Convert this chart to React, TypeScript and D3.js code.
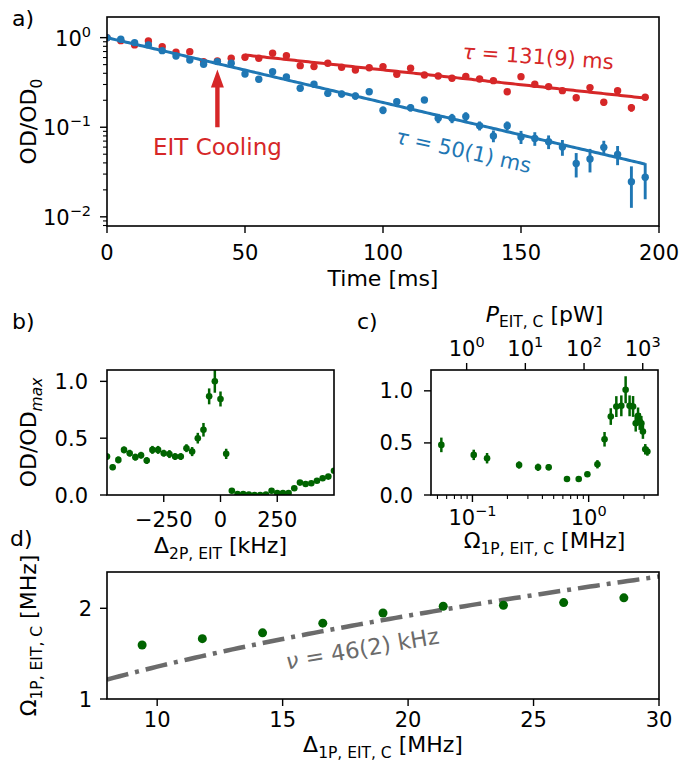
import React from 'react';
import * as d3 from 'd3';

const W = 696;
const H = 764;
const FONT = 'DejaVu Sans, sans-serif';
const BLUE = '#1f77b4';
const RED = '#d62728';
const GREEN = '#006400';
const GREY = '#6b6b6b';
const FS = 21; // tick labels
const LFS = 22; // axis labels
const SUB = 15.5;

// ---- panel a: decay curves
const timeMs = [0, 5, 10, 15, 20, 25, 30, 35, 40, 45, 50, 55, 60, 65, 70, 75, 80, 85, 90, 95,
  100, 105, 110, 115, 120, 125, 130, 135, 140, 145, 150, 155, 160, 165, 170, 175, 180, 185, 190, 195];
const blueOD = [1.0, 0.96, 0.88, 0.83, 0.716, 0.624, 0.563, 0.504, 0.54, 0.518, 0.393, 0.343, 0.417, 0.364,
  0.272, 0.302, 0.239, 0.235, 0.223, 0.249, 0.155, 0.193, 0.165, 0.201, 0.126, 0.126, 0.132, 0.104, 0.08,
  0.104, 0.078, 0.075, 0.069, 0.06, 0.0395, 0.0443, 0.0596, 0.0497, 0.0246, 0.0277];
const blueErr = [0.04, 0.04, 0.04, 0.035, 0.03, 0.03, 0.035, 0.03, 0.025, 0.03, 0.025, 0.025, 0.02, 0.02,
  0.02, 0.02, 0.02, 0.02, 0.02, 0.015, 0.015, 0.015, 0.015, 0.012, 0.015, 0.015, 0.015, 0.012, 0.012,
  0.012, 0.013, 0.013, 0.012, 0.012, 0.012, 0.013, 0.011, 0.012, 0.012, 0.012];
const redOD = [1.0, 0.926, 0.83, 0.918, 0.79, 0.687, 0.698, 0.54, 0.55, 0.588, 0.604, 0.588, 0.67, 0.627,
  0.487, 0.475, 0.518, 0.467, 0.436, 0.462, 0.475, 0.39, 0.455, 0.383, 0.373, 0.352, 0.37, 0.346, 0.331,
  0.249, 0.367, 0.302, 0.284, 0.256, 0.213, 0.277, 0.19, 0.256, 0.165, 0.216];
const redErr = [0.04, 0.04, 0.035, 0.035, 0.03, 0.03, 0.03, 0.03, 0.03, 0.025, 0.025, 0.025, 0.025, 0.025,
  0.02, 0.02, 0.02, 0.02, 0.02, 0.02, 0.02, 0.02, 0.02, 0.018, 0.018, 0.018, 0.018, 0.018, 0.018,
  0.016, 0.016, 0.016, 0.016, 0.016, 0.016, 0.016, 0.016, 0.016, 0.016, 0.016];
// fitted exponentials as they appear on the plot
const blueFit = { t0: 0, t1: 195, a: 1.0, tau: 60 };
const redFit = { t0: 50, t1: 195, a: 0.64, tau: 131 };
const xTicksA = [0, 50, 100, 150, 200];

// ---- panel b: two-photon detuning scan
const detuning2P = [-500, -475, -450, -425, -400, -375, -350, -325, -300, -275, -250, -225, -200, -175,
  -150, -125, -100, -75, -50, -25, 0, 25, 50, 75, 100, 125, 150, 175, 200, 225, 250, 275, 300, 325, 350,
  375, 400, 425, 450, 475, 500];
const odB = [0.338, 0.244, 0.309, 0.397, 0.368, 0.333, 0.35, 0.303, 0.397, 0.397, 0.368, 0.36, 0.338,
  0.338, 0.412, 0.382, 0.5, 0.574, 0.868, 1.0, 0.845, 0.362, 0.038, 0.009, 0.009, 0.005, 0.0, 0.0, 0.005,
  0.038, 0.018, 0.018, 0.018, 0.059, 0.109, 0.097, 0.103, 0.126, 0.147, 0.162, 0.214];
const errB = [0.03, 0.025, 0.03, 0.03, 0.03, 0.03, 0.03, 0.03, 0.035, 0.035, 0.03, 0.035, 0.03, 0.03,
  0.035, 0.04, 0.047, 0.06, 0.07, 0.1, 0.066, 0.045, 0.012, 0.01, 0.01, 0.01, 0.01, 0.01, 0.01, 0.012,
  0.012, 0.012, 0.012, 0.015, 0.015, 0.015, 0.015, 0.015, 0.015, 0.015, 0.015];
const xTicksB = [-250, 0, 250];
const yTicksB = [0, 0.5, 1.0];

// ---- panel c: Rabi frequency scan
const omegaC = [0.054, 0.1026, 0.1336, 0.252, 0.367, 0.453, 0.651, 0.821, 0.975, 1.19, 1.37, 1.55, 1.73,
  1.91, 2.08, 2.25, 2.41, 2.54, 2.66, 2.75, 2.84, 2.93, 3.07, 3.2];
const odC = [0.481, 0.385, 0.353, 0.288, 0.266, 0.266, 0.154, 0.154, 0.199, 0.295, 0.535, 0.753, 0.849,
  0.856, 1.01, 0.856, 0.85, 0.689, 0.76, 0.705, 0.689, 0.609, 0.439, 0.417];
const errC = [0.07, 0.05, 0.05, 0.035, 0.035, 0.03, 0.02, 0.02, 0.025, 0.04, 0.07, 0.08, 0.1, 0.1, 0.13,
  0.1, 0.1, 0.08, 0.08, 0.08, 0.07, 0.07, 0.05, 0.04];
const omegaDomain = [0.044, 3.95];
const powerDomain = [0.247, 1820];
const xTicksC = [0.1, 1];
const topTicksC = [1, 10, 100, 1000];
const yTicksC = [0, 0.5, 1.0];

// ---- panel d: optimal Rabi frequency vs single-photon detuning
const detuning1P = [9.4, 11.8, 14.2, 16.6, 19.0, 21.4, 23.8, 26.2, 28.6];
const omegaOpt = [1.595, 1.665, 1.729, 1.836, 1.948, 2.022, 2.033, 2.063, 2.115];
const trapNuMHz = 0.046;
const xTicksD = [10, 15, 20, 25, 30];
const yTicksD = [1, 2];

const A = { l: 107, r: 659, t: 17, b: 226 };
const B = { l: 107, r: 334, t: 370, b: 495 };
const C = { l: 431, r: 658, t: 370, b: 495 };
const D = { l: 107, r: 659, t: 572, b: 699 };

const minus = (n: number) => String(n).replace('-', '\u2212');

const Pow10 = ({ x, y, v, anchor }: any) => {
  const e = Math.round(Math.log10(v));
  return (
    <text x={x} y={y} textAnchor={anchor} fontSize={FS}>
      <tspan>10</tspan>
      <tspan dy={-9} fontSize={14.5}>{minus(e)}</tspan>
    </text>
  );
};

const Frame = ({ p }: any) => (
  <rect x={p.l} y={p.t} width={p.r - p.l} height={p.b - p.t} fill="none" stroke="#000" strokeWidth={1.6} />
);

const Clip = ({ id, p }: any) => (
  <clipPath id={id}><rect x={p.l} y={p.t} width={p.r - p.l} height={p.b - p.t} /></clipPath>
);

// label with a roman subscript, e.g. Δ_{2P, EIT} [kHz]
const SubLabel = ({ base, sub, rest, italicBase = false, italicSub = false, drop = 5.5 }: any) => (
  <>
    <tspan fontStyle={italicBase ? 'italic' : 'normal'}>{base}</tspan>
    <tspan dy={drop} fontSize={SUB} fontStyle={italicSub ? 'italic' : 'normal'}>{sub}</tspan>
    {rest && <tspan dy={-drop}>{rest}</tspan>}
  </>
);

const XTicks = ({ p, scale, ticks, len = 7, fmt = (v: number) => minus(v), y0 = 26 }: any) => (
  <g>
    {ticks.map((v: number) => (
      <g key={v}>
        <line x1={scale(v)} x2={scale(v)} y1={p.b} y2={p.b + len} stroke="#000" strokeWidth={1.4} />
        <text x={scale(v)} y={p.b + y0} textAnchor="middle" fontSize={FS}>{fmt(v)}</text>
      </g>
    ))}
  </g>
);

const YTicks = ({ p, scale, ticks, fmt = (v: number) => v.toFixed(1), gap = 17 }: any) => (
  <g>
    {ticks.map((v: number) => (
      <g key={v}>
        <line x1={p.l - 7} x2={p.l} y1={scale(v)} y2={scale(v)} stroke="#000" strokeWidth={1.4} />
        <text x={p.l - gap} y={scale(v) + 7.5} textAnchor="end" fontSize={FS}>{fmt(v)}</text>
      </g>
    ))}
  </g>
);

const ErrDots = ({ xs, ys, es, x, y, color, r, sw }: any) => (
  <g>
    {xs.map((xv: number, i: number) => (
      <line key={'e' + i} x1={x(xv)} x2={x(xv)} y1={y(Math.max(ys[i] - es[i], 1e-4))} y2={y(ys[i] + es[i])}
        stroke={color} strokeWidth={sw} />
    ))}
    {xs.map((xv: number, i: number) => (
      <circle key={'c' + i} cx={x(xv)} cy={y(ys[i])} r={r} fill={color} />
    ))}
  </g>
);

export default function App() {
  // panel a scales
  const xa = d3.scaleLinear().domain([0, 200]).range([A.l, A.r]);
  const ya = d3.scaleLog().domain([0.0079, 1.7]).range([A.b, A.t]);
  const minorA = ya.ticks().filter((v) => Math.abs(Math.log10(v) - Math.round(Math.log10(v))) > 1e-6);
  const majorA = [0.01, 0.1, 1];
  const fitLine = (f: any) => {
    const ts = d3.range(f.t0, f.t1 + 0.01, 1);
    return d3.line<number>().x((t) => xa(t)).y((t) => ya(f.a * Math.exp(-(t - f.t0) / f.tau)))(ts) as string;
  };
  const arrowT = 40, arrowFrom = 0.1, arrowTo = 0.44;
  const ax = xa(arrowT), ayTip = ya(arrowTo), ayTail = ya(arrowFrom);
  const arrowPts = [[ax, ayTip], [ax + 6.5, ayTip + 18], [ax + 2.2, ayTip + 18], [ax + 2.2, ayTail],
    [ax - 2.2, ayTail], [ax - 2.2, ayTip + 18], [ax - 6.5, ayTip + 18]];

  // panel b
  const xb = d3.scaleLinear().domain([-500, 500]).range([B.l, B.r]);
  const yb = d3.scaleLinear().domain([0, 1.1]).range([B.b, B.t]);

  // panel c
  const xc = d3.scaleLog().domain(omegaDomain).range([C.l, C.r]);
  const xcTop = d3.scaleLog().domain(powerDomain).range([C.l, C.r]);
  const yc = d3.scaleLinear().domain([0, 1.2]).range([C.b, C.t]);
  const minorC = xc.ticks().filter((v) => Math.abs(Math.log10(v) - Math.round(Math.log10(v))) > 1e-6);

  // panel d
  const xd = d3.scaleLinear().domain([8, 30]).range([D.l, D.r]);
  const yd = d3.scaleLinear().domain([1, 2.4]).range([D.b, D.t]);
  const fitD = d3.line<number>().x((v) => xd(v)).y((v) => yd(Math.sqrt(4 * trapNuMHz * v)))(d3.range(8, 30.01, 0.25)) as string;
  const nuA = [15.06, 1.32], nuB = [21.4, 1.62];
  const nuAngle = (Math.atan2(yd(nuB[1]) - yd(nuA[1]), xd(nuB[0]) - xd(nuA[0])) * 180) / Math.PI;

  return (
    <svg width={W} height={H} style={{ position: 'absolute', left: 0, top: 0, background: '#fff' }}
      fontFamily={FONT} fill="#000">
      <defs>
        <Clip id="ca" p={A} />
        <Clip id="cb" p={B} />
        <Clip id="cc" p={C} />
        <Clip id="cd" p={D} />
      </defs>

      {/* ---------- a) ---------- */}
      <text x={12} y={26} fontSize={LFS}>a)</text>
      <g clipPath="url(#ca)">
        <ErrDots xs={timeMs} ys={redOD} es={redErr} x={xa} y={ya} color={RED} r={3.7} sw={2.7} />
        <ErrDots xs={timeMs} ys={blueOD} es={blueErr} x={xa} y={ya} color={BLUE} r={3.7} sw={2.9} />
        <path d={fitLine(redFit)} fill="none" stroke={RED} strokeWidth={3} />
        <path d={fitLine(blueFit)} fill="none" stroke={BLUE} strokeWidth={3} />
      </g>
      <polygon points={arrowPts.map((p) => p.join(',')).join(' ')} fill={RED} />
      <text x={ax} y={155} textAnchor="middle" fontSize={23} fill={RED}>EIT Cooling</text>
      <text transform={`translate(${xa(156)},${ya(0.508)}) rotate(4)`} textAnchor="middle" fontSize={21} fill={RED}>
        <tspan fontStyle="italic">τ</tspan> = 131(9) ms
      </text>
      <text transform={`translate(${xa(128.6)},${ya(0.0453)}) rotate(12.5)`} textAnchor="middle" fontSize={21} fill={BLUE}>
        <tspan fontStyle="italic">τ</tspan> = 50(1) ms
      </text>
      <Frame p={A} />
      <XTicks p={A} scale={xa} ticks={xTicksA} y0={34} />
      {minorA.map((v) => (
        <line key={v} x1={A.l - 4} x2={A.l} y1={ya(v)} y2={ya(v)} stroke="#000" strokeWidth={1.1} />
      ))}
      {majorA.map((v) => (
        <g key={v}>
          <line x1={A.l - 7} x2={A.l} y1={ya(v)} y2={ya(v)} stroke="#000" strokeWidth={1.4} />
          <Pow10 x={A.l - 16} y={ya(v) + 8} v={v} anchor="end" />
        </g>
      ))}
      <text x={(A.l + A.r) / 2} y={286} textAnchor="middle" fontSize={LFS}>Time [ms]</text>
      <text transform={`translate(36,${(A.t + A.b) / 2}) rotate(-90)`} textAnchor="middle" fontSize={LFS}>
        <SubLabel base="OD/OD" sub="0" />
      </text>

      {/* ---------- b) ---------- */}
      <text x={12} y={329} fontSize={LFS}>b)</text>
      <g clipPath="url(#cb)">
        <ErrDots xs={detuning2P} ys={odB} es={errB} x={xb} y={yb} color={GREEN} r={3.3} sw={2.5} />
      </g>
      <Frame p={B} />
      <XTicks p={B} scale={xb} ticks={xTicksB} y0={32} />
      <YTicks p={B} scale={yb} ticks={yTicksB} gap={19} />
      <text x={(B.l + B.r) / 2} y={553} textAnchor="middle" fontSize={LFS}>
        <SubLabel base="Δ" sub="2P, EIT" rest=" [kHz]" />
      </text>
      <text transform={`translate(36,${(B.t + B.b) / 2}) rotate(-90)`} textAnchor="middle" fontSize={LFS}>
        <SubLabel base="OD/OD" sub="max" italicSub />
      </text>

      {/* ---------- c) ---------- */}
      <text x={357} y={329} fontSize={LFS}>c)</text>
      <g clipPath="url(#cc)">
        <ErrDots xs={omegaC} ys={odC} es={errC} x={xc} y={yc} color={GREEN} r={3.3} sw={2.5} />
      </g>
      <Frame p={C} />
      {minorC.map((v) => (
        <line key={v} x1={xc(v)} x2={xc(v)} y1={C.b} y2={C.b + 4} stroke="#000" strokeWidth={1.1} />
      ))}
      {xTicksC.map((v) => (
        <g key={v}>
          <line x1={xc(v)} x2={xc(v)} y1={C.b} y2={C.b + 7} stroke="#000" strokeWidth={1.4} />
          <Pow10 x={xc(v)} y={C.b + 30} v={v} anchor="middle" />
        </g>
      ))}
      {topTicksC.map((v) => (
        <g key={v}>
          <line x1={xcTop(v)} x2={xcTop(v)} y1={C.t} y2={C.t - 7} stroke="#000" strokeWidth={1.4} />
          <Pow10 x={xcTop(v)} y={C.t - 14} v={v} anchor="middle" />
        </g>
      ))}
      <YTicks p={C} scale={yc} ticks={yTicksC} gap={18} />
      <text x={(C.l + C.r) / 2} y={548} textAnchor="middle" fontSize={LFS}>
        <SubLabel base="Ω" sub="1P, EIT, C" rest=" [MHz]" />
      </text>
      <text x={(C.l + C.r) / 2} y={322} textAnchor="middle" fontSize={LFS}>
        <SubLabel base="P" sub="EIT, C" rest=" [pW]" italicBase drop={4.5} />
      </text>

      {/* ---------- d) ---------- */}
      <text x={10} y={546} fontSize={LFS}>d)</text>
      <g clipPath="url(#cd)">
        <path d={fitD} fill="none" stroke={GREY} strokeWidth={4.5} strokeDasharray="22,7,4,7" />
        {detuning1P.map((v, i) => (
          <circle key={v} cx={xd(v)} cy={yd(omegaOpt[i])} r={4.5} fill={GREEN} />
        ))}
      </g>
      <text transform={`translate(${xd(18.23)},${yd(1.47)}) rotate(${nuAngle})`} textAnchor="middle"
        fontSize={22.5} fill={GREY}>
        <tspan fontStyle="italic">ν</tspan> = 46(2) kHz
      </text>
      <Frame p={D} />
      <XTicks p={D} scale={xd} ticks={xTicksD} y0={28} />
      <YTicks p={D} scale={yd} ticks={yTicksD} fmt={(v: number) => String(v)} gap={15} />
      <text x={(D.l + D.r) / 2} y={752} textAnchor="middle" fontSize={LFS}>
        <SubLabel base="Δ" sub="1P, EIT, C" rest=" [MHz]" />
      </text>
      <text transform={`translate(36,${(D.t + D.b) / 2}) rotate(-90)`} textAnchor="middle" fontSize={LFS}>
        <SubLabel base="Ω" sub="1P, EIT, C" rest=" [MHz]" />
      </text>
    </svg>
  );
}
